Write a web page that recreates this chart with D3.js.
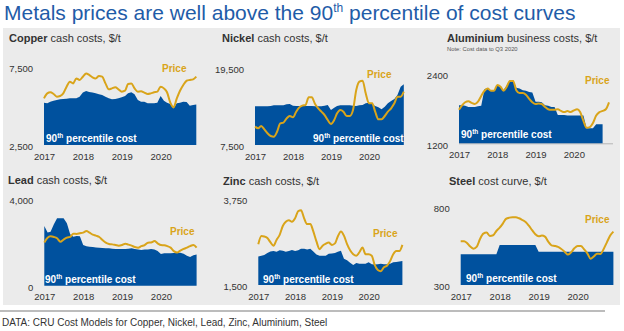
<!DOCTYPE html>
<html>
<head>
<meta charset="utf-8">
<script src="https://cdn.jsdelivr.net/npm/d3@7"></script>
<style>
  body { margin: 0; background: #fff; }
  svg { display: block; font-family: "Liberation Sans", Arial, sans-serif; }
</style>
</head>
<body>
<svg id="chart" width="624" height="331"></svg>
<script>
// monthly points, Jan 2017 - Dec 2020
const years = [2017, 2018, 2019, 2020];
const months = d3.timeMonth.range(new Date(2017, 0, 1), new Date(2021, 0, 1));

const copperTicks = [2500, 7500];
const copperPrice = [5490, 5810, 5880, 5770, 5600, 5640, 5810, 6240, 6560, 6450, 6770, 6670,
  6880, 7090, 6990, 6840, 6770, 6920, 6880, 6450, 6070, 6130, 6200, 6070,
  5920, 5980, 6410, 6450, 6130, 5920, 5940, 5860, 5770, 5810, 5880, 5920,
  6240, 6130, 5880, 5210, 4910, 5490, 5980, 6350, 6620, 6670, 6710, 6880];
const copperCost = [5210, 5170, 5280, 5340, 5390, 5430, 5450, 5470, 5490, 5490, 5490, 5600,
  5860, 5960, 5900, 5860, 5810, 5750, 5710, 5600, 5490, 5430, 5450, 5490,
  5560, 5640, 5810, 5880, 5750, 5390, 5280, 5280, 5170, 5170, 5170, 5210,
  5640, 5340, 5210, 5130, 4850, 5170, 5210, 5280, 5260, 5020, 5060, 5100];

const nickelTicks = [7500, 19500];
const nickelPrice = [10340, 10080, 10440, 9920, 9310, 8890, 8790, 9560, 10850, 10960, 11630, 11990,
  11780, 12660, 13280, 13590, 13690, 14880, 14880, 13850, 13180, 12660, 12140, 11370,
  10750, 11370, 12400, 12920, 12660, 11990, 11990, 12920, 16010, 17300, 17460, 15500,
  13950, 13950, 12660, 11470, 11470, 11990, 12660, 13180, 13950, 14980, 14980, 15750];
const nickelCost = [13490, 13490, 13490, 13490, 13490, 13540, 13640, 13640, 13640, 13640, 13800, 13850,
  13590, 13540, 13540, 13540, 13540, 13540, 13540, 13490, 13490, 13490, 13590, 13690,
  12920, 13280, 13540, 13640, 13640, 13640, 13640, 13590, 13540, 13640, 13690, 13950,
  14060, 13800, 13540, 13330, 13020, 13430, 13950, 14310, 14620, 15240, 16530, 16890];

const aluminiumTicks = [1200, 2400];
const aluminiumPrice = [1780, 1860, 1910, 1930, 1900, 1880, 1920, 2020, 2110, 2150, 2110, 2110,
  2210, 2180, 2110, 2180, 2280, 2280, 2120, 2070, 2070, 2040, 1970, 1910,
  1880, 1890, 1880, 1830, 1790, 1780, 1780, 1790, 1760, 1740, 1760, 1740,
  1770, 1790, 1740, 1590, 1470, 1480, 1550, 1680, 1740, 1760, 1790, 1910];
// cost data to Q3 2020
const aluminiumCost = [1860, 1860, 1850, 1830, 1830, 1830, 1840, 1850, 2140, 2150, 2120, 2120,
  2200, 2170, 2120, 2200, 2290, 2290, 2160, 2150, 2120, 2110, 2090, 2080,
  1920, 1920, 1910, 1860, 1850, 1830, 1830, 1690, 1690, 1690, 1680, 1680,
  1680, 1680, 1680, 1680, 1460, 1460, 1460, 1530, 1530, 1530];

const leadTicks = [0, 4000];
const leadPrice = [1990, 2210, 2270, 2240, 2180, 2020, 2120, 2210, 2250, 2390, 2380, 2410,
  2440, 2510, 2440, 2350, 2300, 2240, 2100, 1980, 1920, 1900, 1870, 1840,
  1870, 1930, 1890, 1840, 1780, 1750, 1820, 1870, 1980, 1990, 2050, 1950,
  1870, 1860, 1820, 1750, 1590, 1530, 1610, 1690, 1750, 1820, 1870, 1750];
const leadCost = [2740, 2450, 2480, 2820, 3100, 3100, 3100, 2870, 2360, 2250, 2280, 2270,
  1870, 1810, 1790, 1780, 1760, 1750, 1730, 1720, 1720, 1700, 1690, 1690,
  1690, 1690, 1700, 1720, 1690, 1660, 1640, 1660, 1670, 1690, 1670, 1590,
  1460, 1490, 1490, 1490, 1500, 1500, 1510, 1470, 1380, 1320, 1400, 1440];

const zincTicks = [1500, 3750];
const zincPrice = [2560, 2770, 2760, 2720, 2610, 2520, 2670, 2800, 3030, 3140, 3180, 3140,
  3230, 3420, 3440, 3230, 3080, 3080, 2890, 2630, 2430, 2520, 2570, 2600,
  2540, 2580, 2760, 2890, 2780, 2560, 2400, 2300, 2260, 2350, 2470, 2300,
  2300, 2260, 2020, 1890, 1860, 1960, 2000, 2120, 2300, 2380, 2380, 2540];
const zincCost = [2240, 2260, 2280, 2330, 2370, 2380, 2360, 2400, 2390, 2360, 2380, 2410,
  2380, 2400, 2440, 2440, 2420, 2440, 2370, 2290, 2260, 2260, 2260, 2310,
  2320, 2330, 2360, 2390, 2180, 2140, 2080, 2020, 2070, 2050, 2050, 2050,
  2090, 2040, 2030, 2040, 2050, 2040, 2040, 2050, 2090, 2100, 2110, 2120];

const steelTicks = [300, 800];
const steelPrice = [578, 578, 567, 544, 531, 544, 592, 626, 633, 612, 616, 643,
  664, 692, 720, 728, 730, 730, 724, 713, 700, 677, 648, 622,
  609, 614, 607, 575, 552, 548, 542, 529, 512, 493, 508, 533,
  548, 548, 527, 501, 467, 482, 499, 497, 529, 571, 614, 639];
const steelCost = [495, 495, 495, 495, 495, 495, 495, 495, 495, 495, 495, 495,
  554, 554, 554, 554, 554, 554, 554, 554, 554, 554, 554, 554,
  512, 512, 512, 512, 512, 512, 512, 512, 512, 512, 512, 512,
  512, 512, 512, 512, 512, 512, 512, 512, 512, 512, 512, 512];

const BLUE = '#00519e';
const GOLD = '#d9a41a';
const TEXT = '#333';

const panels = [
  { name: 'Copper', rest: ' cash costs, $/t', tx: 9, ty: 42, ticks: copperTicks, fmt: d3.format(','),
    x0: 44, x1: 196.3, yTop: 67, yBot: 145, price: copperPrice, cost: copperCost,
    priceAt: [162, 71.5], costAt: [46, 141.5] },
  { name: 'Nickel', rest: ' cash costs, $/t', tx: 222, ty: 42, ticks: nickelTicks, fmt: d3.format(','),
    x0: 255, x1: 403.8, yTop: 67.5, yBot: 145, price: nickelPrice, cost: nickelCost,
    priceAt: [367, 77.5], costAt: [313, 141.5] },
  { name: 'Aluminium', rest: ' business costs, $/t', tx: 447, ty: 42, ticks: aluminiumTicks, fmt: d3.format('d'),
    note: 'Note: Cost data to Q3 2020', axisLine: 613,
    x0: 459, x1: 609, yTop: 74, yBot: 143.3, price: aluminiumPrice, cost: aluminiumCost,
    priceAt: [585, 83.5], costAt: [461, 137.5] },
  { name: 'Lead', rest: ' cash costs, $/t', tx: 8, ty: 184, ticks: leadTicks, fmt: d3.format(','),
    x0: 44.3, x1: 196.6, yTop: 198.7, yBot: 285.7, price: leadPrice, cost: leadCost,
    priceAt: [170, 234.5], costAt: [45, 282.5] },
  { name: 'Zinc', rest: ' cash costs, $/t', tx: 223, ty: 185, ticks: zincTicks, fmt: d3.format(','),
    x0: 258.3, x1: 402.4, yTop: 198.3, yBot: 285, price: zincPrice, cost: zincCost,
    priceAt: [373, 236.5], costAt: [263, 282.5] },
  { name: 'Steel', rest: ' cost curve, $/t', tx: 449, ty: 185, ticks: steelTicks, fmt: d3.format(','),
    x0: 460.7, x1: 613.4, yTop: 206.3, yBot: 285, price: steelPrice, cost: steelCost,
    priceAt: [585, 222.5], costAt: [466, 281.5] },
];

const svg = d3.select('#chart');

// Background panel
svg.append('rect')
  .attr('x', 3).attr('y', 28)
  .attr('width', 617).attr('height', 277)
  .attr('fill', '#ebebeb');

// Main title
const title = svg.append('text')
  .attr('x', 4).attr('y', 20)
  .attr('fill', '#1f5ca8')
  .style('font-size', '21px');
title.append('tspan').text('Metals prices are well above the 90');
title.append('tspan').attr('dy', -8).style('font-size', '12px').text('th');
title.append('tspan').attr('dy', 8).text(' percentile of cost curves');

const drawPanel = (p) => {
  const x = d3.scaleTime()
    .domain([months[0], months[months.length - 1]])
    .range([p.x0, p.x1]);
  const y = d3.scaleLinear()
    .domain(d3.extent(p.ticks))
    .range([p.yBot, p.yTop]);
  const g = svg.append('g');

  // Title
  const t = g.append('text')
    .attr('x', p.tx).attr('y', p.ty)
    .attr('fill', TEXT)
    .style('font-size', '11px');
  t.append('tspan').attr('font-weight', 'bold').text(p.name);
  t.append('tspan').text(p.rest);
  if (p.note) {
    g.append('text')
      .attr('x', p.tx).attr('y', p.ty + 9)
      .attr('fill', '#555')
      .style('font-size', '5.8px')
      .text(p.note);
  }

  // Axis line (only where the cost area doesn't cover it)
  if (p.axisLine) {
    g.append('line')
      .attr('x1', p.x0).attr('x2', p.axisLine)
      .attr('y1', p.yBot + 0.5).attr('y2', p.yBot + 0.5)
      .attr('stroke', '#b5b5b5');
  }

  // Cost area
  const area = d3.area()
    .x((d, i) => x(months[i]))
    .y0(y(p.ticks[0]))
    .y1((d) => y(d));
  g.append('path')
    .datum(p.cost)
    .attr('fill', BLUE)
    .attr('d', area);

  // Price line
  const line = d3.line()
    .curve(d3.curveMonotoneX)
    .x((d, i) => x(months[i]))
    .y((d) => y(d));
  g.append('path')
    .datum(p.price)
    .attr('fill', 'none')
    .attr('stroke', GOLD)
    .attr('stroke-width', 2)
    .attr('stroke-linejoin', 'round')
    .attr('d', line);

  // X
  const xAxis = g.append('g')
    .attr('transform', `translate(0,${p.yBot})`)
    .call(
      d3.axisBottom(x)
        .tickValues(years.map((yr) => new Date(yr, 0, 1)))
        .tickFormat(d3.timeFormat('%Y'))
        .tickSize(0)
        .tickPadding(8)
    );
  xAxis.select('.domain').remove();
  xAxis.selectAll('text')
    .attr('fill', TEXT)
    .style('font-size', '9.5px')
    .style('font-family', '"Liberation Sans", Arial, sans-serif');

  // Y
  const yAxis = g.append('g')
    .attr('transform', `translate(${p.x0},0)`)
    .call(
      d3.axisLeft(y)
        .tickValues(p.ticks)
        .tickFormat(p.fmt)
        .tickSize(0)
        .tickPadding(11)
    );
  yAxis.select('.domain').remove();
  yAxis.selectAll('text')
    .attr('dy', '0.5em')
    .attr('fill', TEXT)
    .style('font-size', '9.5px')
    .style('font-family', '"Liberation Sans", Arial, sans-serif');

  // Labels
  g.append('text')
    .attr('x', p.priceAt[0]).attr('y', p.priceAt[1])
    .attr('fill', GOLD)
    .attr('font-weight', 'bold')
    .style('font-size', '10px')
    .text('Price');
  const c = g.append('text')
    .attr('x', p.costAt[0]).attr('y', p.costAt[1])
    .attr('fill', '#fff')
    .attr('font-weight', 'bold')
    .style('font-size', '10px');
  c.append('tspan').text('90');
  c.append('tspan').attr('dy', -4).style('font-size', '6.5px').text('th');
  c.append('tspan').attr('dy', 4).text(' percentile cost');
};

panels.forEach(drawPanel);

// Footer
svg.append('line')
  .attr('x1', 0).attr('x2', 605)
  .attr('y1', 311).attr('y2', 311)
  .attr('stroke', '#a6a6a6')
  .attr('stroke-width', 1.5);
svg.append('text')
  .attr('x', 2).attr('y', 326)
  .attr('fill', TEXT)
  .style('font-size', '10px')
  .text('DATA: CRU Cost Models for Copper, Nickel, Lead, Zinc, Aluminium, Steel');
</script>
</body>
</html>
